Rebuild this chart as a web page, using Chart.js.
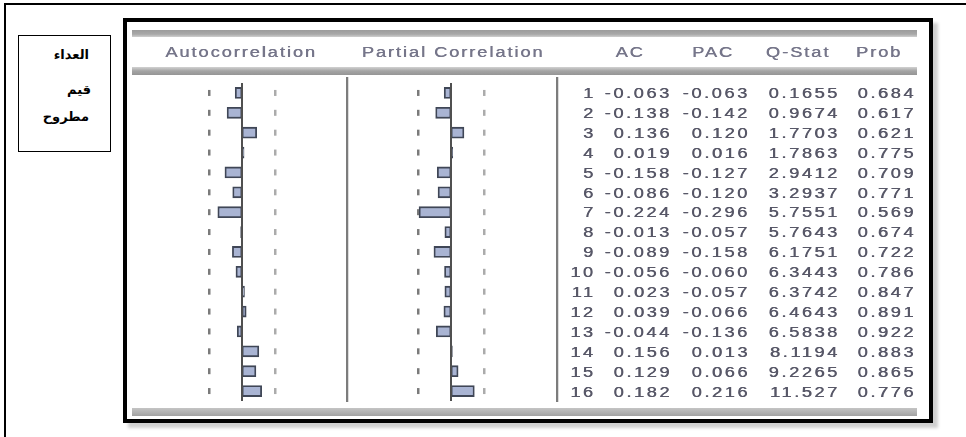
<!DOCTYPE html>
<html>
<head>
<meta charset="utf-8">
<script src="https://cdn.jsdelivr.net/npm/chart.js@4"></script>
<style>
  html, body { margin: 0; padding: 0; }
  body { width: 966px; height: 437px; background: #fff; position: relative; overflow: hidden; }
  .abs { position: absolute; }
  .frame { left: 123px; top: 18px; width: 810px; height: 405px; border: 4.5px solid #000; box-sizing: border-box;
           background: #fff; box-shadow: 5px 5px 3px #cfcfcf; }
  .gbar { left: 132px; width: 785px; }
  .sep { width: 2px; background: #7c7c7c; top: 77px; height: 325px; box-shadow: 1px 0 0 #dcdcdc; }
  .txt { font-family: "Liberation Sans", Arial, sans-serif; font-size: 14px; color: #585868;
         white-space: nowrap; line-height: 20px; height: 20px; filter: blur(0.3px);
         text-shadow: 0.4px 0 0 #585868; }
  .num { letter-spacing: 2px; text-align: right; transform: scaleX(1.3); transform-origin: right center; }
  .head { letter-spacing: 1.5px; color: #76768a; text-shadow: 0.4px 0 0 #76768a; text-align: center;
          transform: scaleX(1.3); transform-origin: center center; }
  .ar { font-family: "DejaVu Sans", sans-serif; font-size: 13px; font-weight: bold; color: #000; direction: rtl;
        text-align: right; white-space: nowrap; line-height: 16px; }
  canvas { position: absolute; }
</style>
</head>
<body>

<div class="abs" style="left:4px;top:3px;width:962px;height:2px;background:#000"></div>
<div class="abs" style="left:4px;top:3px;width:2px;height:434px;background:#000"></div>

<div class="abs" style="left:18px;top:35px;width:93px;height:117px;border:1.5px solid #000;box-sizing:border-box"></div>
<div class="abs ar" style="right:877px;top:47px">العداء</div>
<div class="abs ar" style="right:875px;top:82px">قيم</div>
<div class="abs ar" style="right:877px;top:109px">مطروح</div>

<div class="abs frame"></div>
<div class="abs gbar" style="top:30px;height:7px;background:linear-gradient(#9c9c9c,#a8a8a8 60%,#cfcfcf)"></div>
<div class="abs gbar" style="top:67px;height:8px;background:linear-gradient(#d2d2d2,#a4a4a4 50%,#959595)"></div>
<div class="abs gbar" style="top:408px;height:8px;background:linear-gradient(#c4c4c4,#b0b0b0 60%,#a2a2a2)"></div>

<div class="abs sep" style="left:346px"></div>
<div class="abs sep" style="left:556px"></div>

<canvas id="acfChart" width="216" height="318" style="left:134px;top:83px"></canvas>
<canvas id="pacfChart" width="216" height="318" style="left:343px;top:83px"></canvas>

<div id="table"></div>

<script>
/* =============================
   CORRELOGRAM DATA
============================= */

const lags = [1, 2, 3, 4, 5, 6, 7, 8, 9, 10, 11, 12, 13, 14, 15, 16];
const acValues = [-0.063, -0.138, 0.136, 0.019, -0.158, -0.086, -0.224, -0.013,
                  -0.089, -0.056, 0.023, 0.039, -0.044, 0.156, 0.129, 0.182];
const pacValues = [-0.063, -0.142, 0.120, 0.016, -0.127, -0.120, -0.296, -0.057,
                   -0.158, -0.060, -0.057, -0.066, -0.136, 0.013, 0.066, 0.216];
const qStat = ["0.1655", "0.9674", "1.7703", "1.7863", "2.9412", "3.2937", "5.7551", "5.7643",
               "6.1751", "6.3443", "6.3742", "6.4643", "6.5838", "8.1194", "9.2265", "11.527"];
const probValues = ["0.684", "0.617", "0.621", "0.775", "0.709", "0.771", "0.569", "0.674",
                    "0.722", "0.786", "0.847", "0.891", "0.922", "0.883", "0.865", "0.776"];
const headers = ["Autocorrelation", "Partial Correlation", "AC", "PAC", "Q-Stat", "Prob"];
const confBand = 0.303;

/* =============================
   BAR PANELS
============================= */

// dotted confidence marks + zero line, placed with the chart's own scales
const corrPlugin = {
    id: "corrLines",
    beforeDatasetsDraw(chart) {
        const { ctx, scales: { x, y } } = chart;
        ctx.save();
        lags.forEach((lag, i) => {
            const py = y.getPixelForValue(i);
            [[-confBand, "#7a7a7a"], [confBand, "#ababab"]].forEach(([v, col]) => {
                ctx.fillStyle = col;
                ctx.fillRect(Math.round(x.getPixelForValue(v)) - 1, py - 3, 2.5, 6);
            });
        });
        ctx.restore();
    },
    afterDatasetsDraw(chart) {
        const { ctx, chartArea, scales: { x } } = chart;
        const px = x.getPixelForValue(0);
        ctx.save();
        ctx.strokeStyle = "#505050";
        ctx.lineWidth = 2;
        ctx.beginPath();
        ctx.moveTo(px, chartArea.top - 5);
        ctx.lineTo(px, chartArea.bottom + 1);
        ctx.stroke();
        ctx.restore();
    }
};

function makePanel(id, values) {
    return new Chart(document.getElementById(id), {
        type: "bar",
        data: {
            labels: lags,
            datasets: [{
                data: values,
                backgroundColor: "#a9b4d3",
                borderColor: "#3f4656",
                borderWidth: 1.8,
                borderSkipped: false,
                barThickness: 11
            }]
        },
        options: {
            indexAxis: "y",
            responsive: false,
            animation: false,
            layout: { padding: 0 },
            plugins: { legend: { display: false }, tooltip: { enabled: false } },
            scales: {
                x: { display: false, min: -1, max: 1 },
                y: { display: false, offset: true }
            }
        },
        plugins: [corrPlugin]
    });
}

makePanel("acfChart", acValues);
makePanel("pacfChart", pacValues);

/* =============================
   TABLE TEXT
============================= */

const table = document.getElementById("table");
const rowTop = 83, rowH = 19.9;

function addText(cls, text, css) {
    const d = document.createElement("div");
    d.className = "abs txt " + cls;
    d.textContent = text;
    Object.assign(d.style, css);
    table.appendChild(d);
}

// header centres
[240, 452, 629, 712, 797, 878].forEach((cx, i) => {
    addText("head", headers[i], { left: (cx - 150 + 1) + "px", width: "300px", top: "42px" });
});

// right edges of the number columns
const colRight = [593, 669, 747, 837, 913];

lags.forEach((lag, i) => {
    const top = (rowTop + i * rowH) + "px";
    const cells = [String(lag), acValues[i].toFixed(3), pacValues[i].toFixed(3), qStat[i], probValues[i]];
    cells.forEach((t, c) => {
        addText("num", t, { right: (966 - colRight[c] - 2.6) + "px", top: top });
    });
});
</script>
</body>
</html>
